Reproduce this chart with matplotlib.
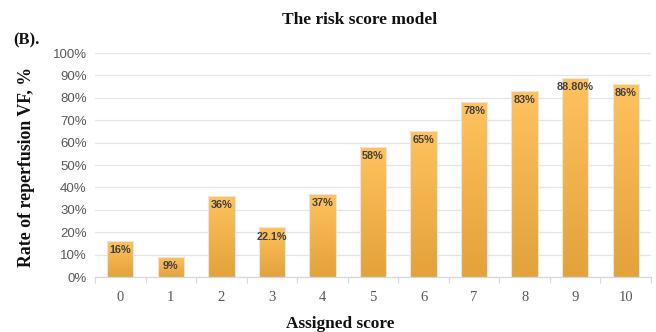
import numpy as np
import matplotlib
matplotlib.use("Agg")
import matplotlib.pyplot as plt
from matplotlib.colors import LinearSegmentedColormap
from matplotlib.patches import Rectangle

# Assigned score categories and reperfusion VF rates (%)
scores = ["0", "1", "2", "3", "4", "5", "6", "7", "8", "9", "10"]
rates = [16, 9, 36, 22.1, 37, 58, 65, 78, 83, 88.8, 86]
value_labels = ["16%", "9%", "36%", "22.1%", "37%", "58%", "65%", "78%", "83%", "88.80%", "86%"]
y_ticks = list(range(0, 101, 10))
y_tick_labels = [f"{t}%" for t in y_ticks]

SERIF = ["Liberation Serif", "DejaVu Serif"]
SANS = ["Liberation Sans", "DejaVu Sans"]

fig = plt.figure(figsize=(6.56, 3.32), dpi=100)
ax = fig.add_axes([95 / 656, 1 - 277 / 332, (651 - 95) / 656, (277 - 53) / 332])

x = np.arange(len(scores))
bar_w = 0.52
cmap = LinearSegmentedColormap.from_list("bar_grad", ["#E3A23A", "#FFC25E"])
grad = np.linspace(0, 1, 256).reshape(-1, 1)

bars = ax.bar(x, rates, width=bar_w, color="none", edgecolor="#E6E6E6", linewidth=0.8, zorder=3)
for b in bars:
    x0, w, h = b.get_x(), b.get_width(), b.get_height()
    im = ax.imshow(grad, cmap=cmap, origin="lower", aspect="auto",
                   extent=[x0, x0 + w, 0, h], zorder=2)
    clip = Rectangle((x0, 0), w, h, transform=ax.transData)
    im.set_clip_path(clip)

for xi, r, lab in zip(x, rates, value_labels):
    ax.text(xi, r - 1.8, lab, ha="center", va="top", fontsize=7.8,
            fontweight="bold", color="#404040", family=SANS, zorder=4)

ax.set_xlim(-0.5, len(scores) - 0.5)
ax.set_ylim(0, 100)
ax.set_yticks(y_ticks)
ax.set_yticklabels(y_tick_labels, family=SANS, fontsize=9.5, color="#595959")
ax.set_xticks(x)
ax.set_xticklabels(scores, family=SERIF, fontsize=10.5, color="#595959")
ax.set_xticks(np.arange(-0.5, len(scores), 1), minor=True)
ax.tick_params(axis="x", which="major", length=0, pad=10)
ax.tick_params(axis="x", which="minor", length=4, color="#D9D9D9", width=0.8)
ax.tick_params(axis="y", length=0, pad=6)

ax.grid(axis="y", color="#E5E5E5", linewidth=0.9, zorder=0)
ax.set_axisbelow(True)
for s in ["top", "right", "left"]:
    ax.spines[s].set_visible(False)
ax.spines["bottom"].set_color("#D9D9D9")
ax.spines["bottom"].set_linewidth(0.9)

fig.text(360 / 656, 1 - 20 / 332, "The risk score model", ha="center", va="center",
         family=SERIF, fontweight="bold", fontsize=12.5, color="#111111")
fig.text(13 / 656, 1 - 40 / 332, "(B).", ha="left", va="center",
         family=SERIF, fontweight="bold", fontsize=12, color="#111111")
fig.text(27 / 656, 1 - 167 / 332, "Rate of reperfusion VF, %", ha="center", va="center",
         rotation=90, family=SERIF, fontweight="bold", fontsize=12.8, color="#111111")
fig.text(340 / 656, 1 - 324 / 332, "Assigned score", ha="center", va="center",
         family=SERIF, fontweight="bold", fontsize=12.4, color="#111111")

fig.savefig("out.png", dpi=100)
